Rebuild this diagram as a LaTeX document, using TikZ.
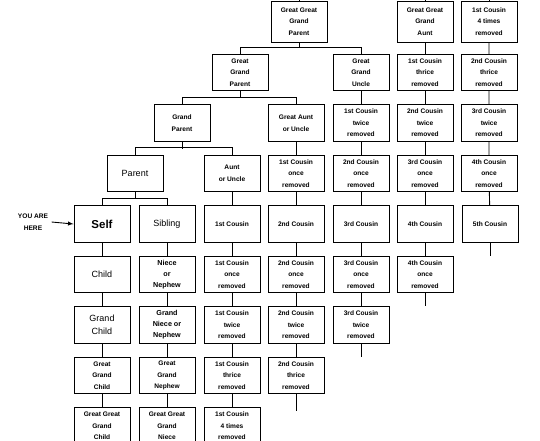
\documentclass[tikz,border=0pt]{standalone}
\usepackage{fontspec}
\setmainfont{Liberation Sans}
\begin{document}
\begin{tikzpicture}[x=1pt,y=-1pt,
  box/.style={draw,line width=0.9pt,minimum width=56pt,minimum height=36.5pt,inner sep=1pt,align=center,font=\bfseries\fontsize{6.6}{11.5}\selectfont},
  big/.style={font=\fontsize{9}{11}\selectfont},
  tall/.style={minimum height=41pt},
  ln/.style={line width=0.9pt}]
\useasboundingbox (0,0) rectangle (540,440);
% columns: 102,167,232,296,361,425,490 ; rows
% top row
\node[box,tall] (gggp) at (299,21.5) {Great Great\\Grand\\Parent};
\node[box,tall] (ggga) at (425,21.5) {Great Great\\Grand\\Aunt};
\node[box,tall] (c1r4) at (489,21.5) {1st Cousin\\4 times\\removed};
% row -2
\node[box] (ggp) at (240,72.5) {Great\\Grand\\Parent};
\node[box] (ggu) at (361,72.5) {Great\\Grand\\Uncle};
\node[box] (c1r3a) at (425,72.5) {1st Cousin\\thrice\\removed};
\node[box] (c2r3a) at (489,72.5) {2nd Cousin\\thrice\\removed};
% row -1
\node[box] (gp) at (182,123) {Grand\\Parent};
\node[box] (gau) at (296,123) {Great Aunt\\or Uncle};
\node[box] (c1r2a) at (361,123) {1st Cousin\\twice\\removed};
\node[box] (c2r2a) at (425,123) {2nd Cousin\\twice\\removed};
\node[box] (c3r2a) at (489,123) {3rd Cousin\\twice\\removed};
% row 0
\node[box,big] (par) at (135,173.5) {Parent};
\node[box] (au) at (232,173.5) {Aunt\\or Uncle};
\node[box] (c1r1a) at (296,173.5) {1st Cousin\\once\\removed};
\node[box] (c2r1a) at (361,173.5) {2nd Cousin\\once\\removed};
\node[box] (c3r1a) at (425,173.5) {3rd Cousin\\once\\removed};
\node[box] (c4r1a) at (489,173.5) {4th Cousin\\once\\removed};
% row 1
\node[box,font=\bfseries\fontsize{11.5}{13}\selectfont] (self) at (102,224) {Self};
\node[box,big] (sib) at (167,224) {Sibling};
\node[box] (c1) at (232,224) {1st Cousin};
\node[box] (c2) at (296,224) {2nd Cousin};
\node[box] (c3) at (361,224) {3rd Cousin};
\node[box] (c4) at (425,224) {4th Cousin};
\node[box] (c5) at (490,224) {5th Cousin};
% row 2
\node[box,big] (child) at (102,274.5) {Child};
\node[box,font=\bfseries\fontsize{7.2}{11}\selectfont] (niece) at (167,274.5) {Niece\\or\\Nephew};
\node[box] (c1r1) at (232,274.5) {1st Cousin\\once\\removed};
\node[box] (c2r1) at (296,274.5) {2nd Cousin\\once\\removed};
\node[box] (c3r1) at (361,274.5) {3rd Cousin\\once\\removed};
\node[box] (c4r1) at (425,274.5) {4th Cousin\\once\\removed};
% row 3
\node[box,font=\fontsize{9}{13}\selectfont] (gchild) at (102,325) {Grand\\Child};
\node[box,font=\bfseries\fontsize{7.2}{11}\selectfont] (gniece) at (167,325) {Grand\\Niece or\\Nephew};
\node[box] (c1r2) at (232,325) {1st Cousin\\twice\\removed};
\node[box] (c2r2) at (296,325) {2nd Cousin\\twice\\removed};
\node[box] (c3r2) at (361,325) {3rd Cousin\\twice\\removed};
% row 4
\node[box] (ggchild) at (102,375.5) {Great\\Grand\\Child};
\node[box] (ggneph) at (167,375.5) {Great\\Grand\\Nephew};
\node[box] (c1r3) at (232,375.5) {1st Cousin\\thrice\\removed};
\node[box] (c2r3) at (296,375.5) {2nd Cousin\\thrice\\removed};
% row 5
\node[box] (gggchild) at (102,426) {Great Great\\Grand\\Child};
\node[box] (gggniece) at (167,426) {Great Great\\Grand\\Niece};
\node[box] (c1r4b) at (232,426) {1st Cousin\\4 times\\removed};
% label
\node[font=\bfseries\fontsize{6.6}{11.5}\selectfont,align=center] (here) at (33,222) {YOU ARE\\HERE};
\draw[ln,-latex] (here.east) -- (self.west);
% brackets
\draw[ln] (gggp.south) -- ++(0,6); \draw[ln] (ggp.north) -- ++(0,-6.5) -| (ggu.north);
\draw[ln] (ggp.south) -- ++(0,7); \draw[ln] (gp.north) -- ++(0,-7) -| (gau.north);
\draw[ln] (gp.south) -- ++(0,7); \draw[ln] (par.north) -- ++(0,-7) -| (au.north);
\draw[ln] (par.south) -- ++(0,7); \draw[ln] (self.north) -- ++(0,-7) -| (sib.north);
% top stubs
\coordinate (t1) at (299,-2); \coordinate (t2) at (425,-2); \coordinate (t3) at (489,-2);
\draw[ln] (gggp.north) -- (t1); \draw[ln] (ggga.north) -- (t2); \draw[ln] (c1r4.north) -- (t3);
% columns
\draw[ln] (self) -- (child) -- (gchild) -- (ggchild) -- (gggchild);
\draw[ln] (sib) -- (niece) -- (gniece) -- (ggneph) -- (gggniece);
\draw[ln] (au) -- (c1) -- (c1r1) -- (c1r2) -- (c1r3) -- (c1r4b);
\draw[ln] (gau) -- (c1r1a) -- (c2) -- (c2r1) -- (c2r2) -- (c2r3);
\draw[ln] (ggu) -- (c1r2a) -- (c2r1a) -- (c3) -- (c3r1) -- (c3r2);
\draw[ln] (ggga) -- (c1r3a) -- (c2r2a) -- (c3r1a) -- (c4) -- (c4r1);
\draw[ln] (c1r4) -- (c2r3a) -- (c3r2a) -- (c4r1a) -- (c5);
% bottom stubs
\coordinate (b1) at (296,411); \coordinate (b2) at (361,357); \coordinate (b3) at (425,306); \coordinate (b4) at (490,256);
\draw[ln] (c2r3.south) -- (b1); \draw[ln] (c3r2.south) -- (b2);
\draw[ln] (c4r1.south) -- (b3); \draw[ln] (c5.south) -- (b4);
\end{tikzpicture}
\end{document}
